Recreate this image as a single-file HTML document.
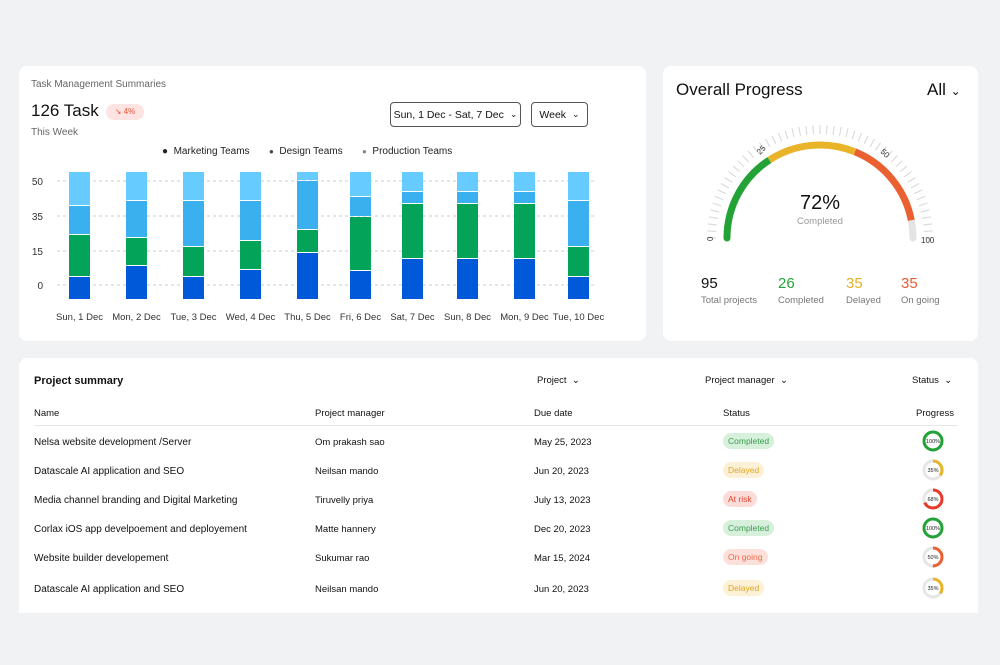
<!DOCTYPE html>
<html><head><meta charset="utf-8"><style>
*{box-sizing:border-box;margin:0;padding:0}
body{width:1000px;height:665px;background:#f1f2f4;font-family:"Liberation Sans",sans-serif;color:#111;position:relative;overflow:hidden}
.card{position:absolute;background:#fff;border-radius:8px}
.t{position:absolute;white-space:nowrap}
.btn{position:absolute;border:1px solid #555;border-radius:4px;font-size:10.5px;display:flex;align-items:center;justify-content:center;gap:6px;white-space:nowrap}
.pill{position:absolute;font-size:8.5px;padding:3px 5px;border-radius:9px}
</style></head><body>
<div class="card" style="left:19px;top:66px;width:627px;height:275px"></div>
<div class="card" style="left:663px;top:66px;width:315px;height:275px"></div>
<div class="card" style="left:19px;top:358px;width:959px;height:255px;border-radius:8px 8px 0 0"></div>

<div class="t" style="left:31px;top:79px;font-size:10px;color:#666">Task Management Summaries</div>
<div class="t" style="left:31px;top:101px;font-size:17px">126 Task</div>
<div class="t" style="left:106px;top:104px;width:38px;height:16px;background:#fde4e2;border-radius:8px;color:#e5533a;font-size:8px;line-height:16px;text-align:center">↘ 4%</div>
<div class="t" style="left:31px;top:127px;font-size:10px;color:#666">This Week</div>
<div class="btn" style="left:390px;top:102px;width:131px;height:25px">Sun, 1 Dec - Sat, 7 Dec <span style="font-size:9px">⌄</span></div>
<div class="btn" style="left:531px;top:102px;width:57px;height:25px">Week <span style="font-size:9px">⌄</span></div>
<div class="t" style="left:162px;top:146px;font-size:10px;color:#222">●&nbsp; Marketing Teams</div>
<div class="t" style="left:269px;top:146px;font-size:10px;color:#222"><span style="color:#444;font-size:8px">●</span>&nbsp; Design Teams</div>
<div class="t" style="left:362px;top:146px;font-size:10px;color:#222"><span style="color:#888;font-size:8px">●</span>&nbsp; Production Teams</div>
<svg id="bars" style="position:absolute;left:0;top:0" width="660" height="340"></svg>

<div class="t" style="left:676px;top:80px;font-size:17px">Overall Progress</div>
<div class="t" style="left:927px;top:80px;font-size:17px">All <span style="font-size:12px">⌄</span></div>
<svg id="gauge" style="position:absolute;left:663px;top:66px" width="315" height="200"></svg>
<div class="t" style="left:770px;top:192px;width:100px;text-align:center;font-size:20px">72%</div>
<div class="t" style="left:770px;top:216px;width:100px;text-align:center;font-size:9.5px;color:#999">Completed</div>
<div class="t" style="left:701px;top:275px;font-size:15px">95</div>
<div class="t" style="left:701px;top:295px;font-size:9.5px;color:#777">Total projects</div>
<div class="t" style="left:778px;top:275px;font-size:15px;color:#24a33a">26</div>
<div class="t" style="left:778px;top:295px;font-size:9.5px;color:#777">Completed</div>
<div class="t" style="left:846px;top:275px;font-size:15px;color:#e8b127">35</div>
<div class="t" style="left:846px;top:295px;font-size:9.5px;color:#777">Delayed</div>
<div class="t" style="left:901px;top:275px;font-size:15px;color:#ea5b36">35</div>
<div class="t" style="left:901px;top:295px;font-size:9.5px;color:#777">On going</div>

<div class="t" style="left:34px;top:375px;font-size:11px;font-weight:bold">Project summary</div>
<div class="t" style="left:537px;top:375px;font-size:9.5px">Project &nbsp;⌄</div>
<div class="t" style="left:705px;top:375px;font-size:9.5px">Project manager &nbsp;⌄</div>
<div class="t" style="left:912px;top:375px;font-size:9.5px">Status &nbsp;⌄</div>
<div class="t" style="left:34px;top:408px;font-size:9.5px">Name</div>
<div class="t" style="left:315px;top:408px;font-size:9.5px">Project manager</div>
<div class="t" style="left:534px;top:408px;font-size:9.5px">Due date</div>
<div class="t" style="left:723px;top:408px;font-size:9.5px">Status</div>
<div class="t" style="left:916px;top:408px;font-size:9.5px">Progress</div>
<div style="position:absolute;left:34px;top:425px;width:923px;height:1px;background:#e8e8e8"></div>
<div id="rows"></div>
<script>
var s='';
[[50,181],[35,216],[15,251],[0,285]].forEach(function(g){s+='<line x1="57" x2="595" y1="'+g[1]+'" y2="'+g[1]+'" stroke="#ccc" stroke-dasharray="3 3"/><text x="43" y="'+(g[1]+4)+'" font-size="10" text-anchor="end" fill="#333" font-family="Liberation Sans">'+g[0]+'</text>';});
var xs=[69,126,183,240,297,350,402,457,514,568];
var b=[[206,235,277],[201,238,266],[201,247,277],[201,241,270],[181,230,253],[197,217,271],[192,204,259],[192,204,259],[192,204,259],[201,247,277]];
var L=['Sun, 1 Dec','Mon, 2 Dec','Tue, 3 Dec','Wed, 4 Dec','Thu, 5 Dec','Fri, 6 Dec','Sat, 7 Dec','Sun, 8 Dec','Mon, 9 Dec','Tue, 10 Dec'];
var C=['#66ccff','#3ab0ee','#03a45a','#0059d8'];
xs.forEach(function(x,i){var ys=[172].concat(b[i]).concat([299]);for(var k=0;k<4;k++){s+='<rect x="'+x+'" y="'+ys[k]+'" width="21" height="'+(ys[k+1]-ys[k]-(k<3?1:0))+'" fill="'+C[k]+'"/>';}
s+='<text x="'+(x+10.5)+'" y="320" font-size="9.5" text-anchor="middle" fill="#333" font-family="Liberation Sans">'+L[i]+'</text>';});
document.getElementById('bars').innerHTML=s;
var cx=157,cy=172,r=93,g='';
function P(a,rr){var t=a*Math.PI/180;return [cx+rr*Math.cos(t),cy-rr*Math.sin(t)];}
function arc(a1,a2,col){var p=P(a1,r),q=P(a2,r);return '<path d="M'+p[0]+' '+p[1]+' A'+r+' '+r+' 0 0 1 '+q[0]+' '+q[1]+'" stroke="'+col+'" stroke-width="7" fill="none"/>';}
for(var a=180;a>=0;a-=3.6){var p=P(a,104),q=P(a,113);g+='<line x1="'+p[0]+'" y1="'+p[1]+'" x2="'+q[0]+'" y2="'+q[1]+'" stroke="#d6d6d6" stroke-width="1"/>';}
g+=arc(11,0,'#e4e4e4')+arc(68,11,'#ea6030')+arc(123,68,'#e9b42a')+arc(180,123,'#23a236');
g+='<circle cx="'+(cx-r)+'" cy="'+cy+'" r="3.5" fill="#23a236"/><circle cx="'+(cx+r)+'" cy="'+cy+'" r="3.5" fill="#e4e4e4"/>';
g+='<text font-size="8" fill="#333" font-family="Liberation Sans" transform="translate(50,175) rotate(-90)">0</text>';
g+='<text font-size="8" fill="#333" font-family="Liberation Sans" transform="translate(97,89) rotate(-45)">25</text>';
g+='<text font-size="8" fill="#333" font-family="Liberation Sans" transform="translate(217,86) rotate(45)">50</text>';
g+='<text font-size="8" fill="#333" font-family="Liberation Sans" x="258" y="177">100</text>';
document.getElementById('gauge').innerHTML=g;
var R=[['Nelsa website development /Server','Om prakash sao','May 25, 2023','Completed',100,'#23a236','#d7f0dc','#3a9d4e',441],
['Datascale AI application and SEO','Neilsan mando','Jun 20, 2023','Delayed',35,'#e9b42a','#fcf1d6','#e0a723',470],
['Media channel branding and Digital Marketing','Tiruvelly priya','July 13, 2023','At risk',68,'#e83a2a','#fcdcd8','#e0422e',499],
['Corlax iOS app develpoement and deployement','Matte hannery','Dec 20, 2023','Completed',100,'#23a236','#d7f0dc','#3a9d4e',528],
['Website builder developement','Sukumar rao','Mar 15, 2024','On going',50,'#ea6030','#fde0da','#e86a4e',557],
['Datascale AI application and SEO','Neilsan mando','Jun 20, 2023','Delayed',35,'#e9b42a','#fcf1d6','#e0a723',588]];
var h='';
R.forEach(function(r){var y=r[8];
h+='<div class="t" style="left:34px;top:'+(y-4)+'px;font-size:10px">'+r[0]+'</div><div class="t" style="left:315px;top:'+(y-4)+'px;font-size:9.5px">'+r[1]+'</div><div class="t" style="left:534px;top:'+(y-4)+'px;font-size:9.5px">'+r[2]+'</div>';
h+='<div class="pill" style="left:723px;top:'+(y-8)+'px;background:'+r[6]+';color:'+r[7]+'">'+r[3]+'</div>';
var c=2*Math.PI*9;
h+='<svg style="position:absolute;left:922px;top:'+(y-11)+'px" width="22" height="22"><circle cx="11" cy="11" r="9" fill="none" stroke="#e6e6e6" stroke-width="3"/><circle cx="11" cy="11" r="9" fill="none" stroke="'+r[5]+'" stroke-width="3" stroke-dasharray="'+(c*r[4]/100)+' '+c+'" transform="rotate(-90 11 11)"/><text x="11" y="13" font-size="5.5" text-anchor="middle" font-family="Liberation Sans" fill="#222">'+r[4]+'%</text></svg>';});
document.getElementById('rows').innerHTML=h;
</script>
</body></html>
